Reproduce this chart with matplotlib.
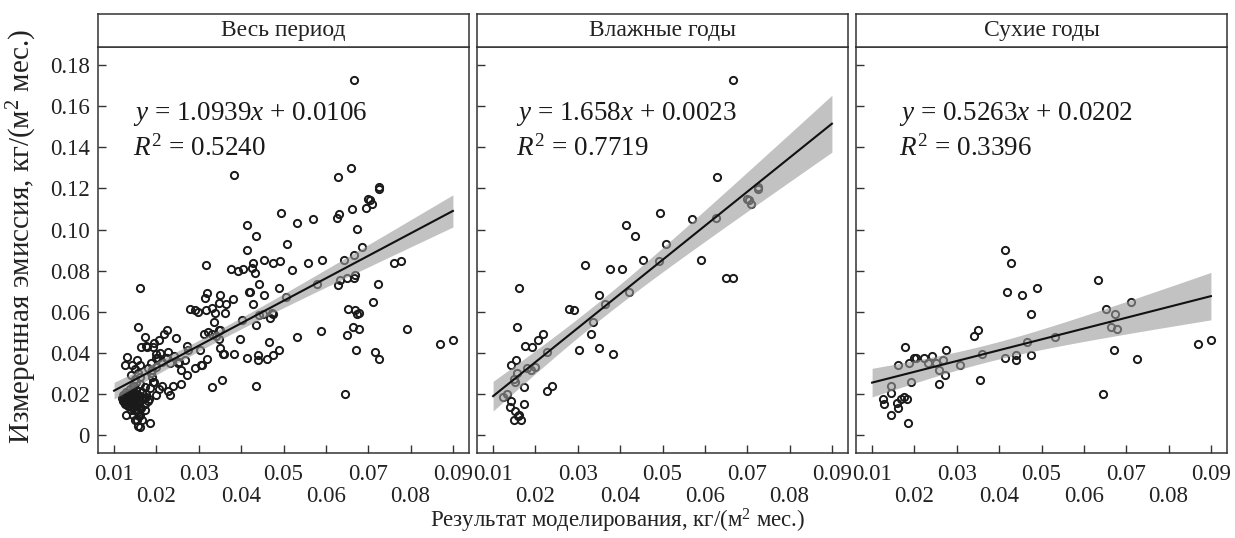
import numpy as np
import matplotlib
matplotlib.use("Agg")
from matplotlib import pyplot as plt

plt.rcParams['font.family'] = ['Liberation Serif', 'DejaVu Serif']
plt.rcParams['mathtext.fontset'] = 'custom'
plt.rcParams['mathtext.rm'] = 'Liberation Serif'
plt.rcParams['mathtext.it'] = 'Liberation Serif:italic'

## Data ##

panel_titles = ["Весь период", "Влажные годы", "Сухие годы"]
slopes = [1.0939, 1.658, 0.5263]
intercepts = [0.0106, 0.0023, 0.0202]
eq_texts = ["1.0939", "1.658", "0.5263"]
int_texts = ["0.0106", "0.0023", "0.0202"]
r2_texts = ["0.5240", "0.7719", "0.3396"]

x_ticks = [0.01, 0.02, 0.03, 0.04, 0.05, 0.06, 0.07, 0.08, 0.09]
x_ticklabels = ["0.01", "\n0.02", "0.03", "\n0.04", "0.05", "\n0.06", "0.07", "\n0.08", "0.09"]
y_ticks = [0, 0.02, 0.04, 0.06, 0.08, 0.10, 0.12, 0.14, 0.16, 0.18]
y_ticklabels = ["0", "0.02", "0.04", "0.06", "0.08", "0.10", "0.12", "0.14", "0.16", "0.18"]

# wet years
wet_x = [0.0667, 0.0628, 0.0700, 0.0705, 0.0708, 0.0726, 0.0726, 0.0494, 0.0569, 0.0626,
         0.0414, 0.0436, 0.0509, 0.0455, 0.0492, 0.0591, 0.0650, 0.0667, 0.0318, 0.0377,
         0.0404, 0.0421, 0.0349, 0.0364, 0.0280, 0.0291, 0.0336, 0.0332, 0.0349, 0.0382,
         0.0302, 0.0162, 0.0156, 0.0217, 0.0207, 0.0176, 0.0191, 0.0227, 0.0143, 0.0154,
         0.0156, 0.0150, 0.0151, 0.0180, 0.0190, 0.0199, 0.0172, 0.0228, 0.0239, 0.0124,
         0.0132, 0.0143, 0.0139, 0.0173, 0.0152, 0.0161, 0.0159, 0.0150, 0.0165]
wet_y = [0.1730, 0.1254, 0.1147, 0.1144, 0.1125, 0.1206, 0.1196, 0.1078, 0.1050, 0.1055,
         0.1020, 0.0967, 0.0928, 0.0850, 0.0847, 0.0854, 0.0763, 0.0763, 0.0826, 0.0810,
         0.0810, 0.0698, 0.0680, 0.0638, 0.0615, 0.0610, 0.0549, 0.0489, 0.0422, 0.0394,
         0.0412, 0.0714, 0.0523, 0.0490, 0.0463, 0.0432, 0.0430, 0.0402, 0.0339, 0.0364,
         0.0300, 0.0271, 0.0258, 0.0325, 0.0315, 0.0331, 0.0232, 0.0213, 0.0240, 0.0185,
         0.0201, 0.0167, 0.0135, 0.0151, 0.0115, 0.0097, 0.0093, 0.0071, 0.0075]

# dry years
dry_x = [0.0414, 0.0429, 0.0418, 0.0454, 0.0490, 0.0633, 0.0475, 0.0653, 0.0674, 0.0711,
         0.0663, 0.0678, 0.0671, 0.0725, 0.0645, 0.0870, 0.0900, 0.0531, 0.0465, 0.0340,
         0.0349, 0.0360, 0.0413, 0.0439, 0.0439, 0.0476, 0.0355, 0.0307, 0.0274, 0.0268,
         0.0242, 0.0223, 0.0203, 0.0199, 0.0231, 0.0250, 0.0258, 0.0272, 0.0259, 0.0177,
         0.0161, 0.0187, 0.0191, 0.0145, 0.0145, 0.0125, 0.0129, 0.0159, 0.0161, 0.0168,
         0.0175, 0.0183, 0.0145, 0.0185]
dry_y = [0.0902, 0.0836, 0.0696, 0.0682, 0.0717, 0.0755, 0.0591, 0.0613, 0.0591, 0.0649,
         0.0527, 0.0516, 0.0415, 0.0372, 0.0198, 0.0445, 0.0464, 0.0479, 0.0454, 0.0484,
         0.0510, 0.0394, 0.0375, 0.0388, 0.0365, 0.0391, 0.0269, 0.0338, 0.0414, 0.0364,
         0.0383, 0.0376, 0.0376, 0.0375, 0.0349, 0.0349, 0.0316, 0.0290, 0.0248, 0.0427,
         0.0342, 0.0349, 0.0256, 0.0239, 0.0204, 0.0174, 0.0149, 0.0154, 0.0133, 0.0174,
         0.0185, 0.0177, 0.0097, 0.0058]

# remaining years (only in the whole-period panel)
other_x = [0.0383, 0.0659, 0.0695, 0.0662, 0.0632, 0.0674, 0.0532, 0.0685, 0.0667, 0.0642,
           0.0559, 0.0475, 0.0519, 0.0426, 0.0432, 0.0441, 0.0505, 0.0428, 0.0580, 0.0628,
           0.0670, 0.0724, 0.0760, 0.0777, 0.0668, 0.0678, 0.0651, 0.0589, 0.0792, 0.0716,
           0.0434, 0.0490, 0.0460, 0.0397, 0.0434, 0.0401, 0.0467, 0.0473, 0.0451, 0.0443,
           0.0392, 0.0319, 0.0314, 0.0348, 0.0361, 0.0381, 0.0298, 0.0318, 0.0332, 0.0338,
           0.0312, 0.0322, 0.0347, 0.0347, 0.0358, 0.0320, 0.0306, 0.0290, 0.0330, 0.0273,
           0.0246, 0.0224, 0.0194, 0.0174, 0.0163, 0.0131, 0.0198, 0.0208, 0.0212, 0.0226,
           0.0254, 0.0232, 0.0200, 0.0157, 0.0161, 0.0153, 0.0128,
           0.0118, 0.0120, 0.0122, 0.0125, 0.0127, 0.0128, 0.0130, 0.0131, 0.0133, 0.0134,
           0.0135, 0.0137, 0.0138, 0.0139, 0.0140, 0.0141, 0.0142, 0.0144, 0.0145, 0.0146,
           0.0147, 0.0148, 0.0150, 0.0151, 0.0152, 0.0154, 0.0155, 0.0157, 0.0158, 0.0160,
           0.0162, 0.0164, 0.0166, 0.0170, 0.0172, 0.0176, 0.0180, 0.0185, 0.0190, 0.0195,
           0.0186, 0.0160, 0.0140, 0.0150, 0.0125, 0.0213, 0.0205]
other_y = [0.1264, 0.1298, 0.1103, 0.1098, 0.1074, 0.1004, 0.1033, 0.0913, 0.0876, 0.0850,
           0.0835, 0.0835, 0.0803, 0.0811, 0.0790, 0.0733, 0.0673, 0.0636, 0.0736, 0.0728,
           0.0777, 0.0733, 0.0839, 0.0848, 0.0606, 0.0594, 0.0485, 0.0506, 0.0514, 0.0402,
           0.0240, 0.0412, 0.0368, 0.0467, 0.0537, 0.0560, 0.0568, 0.0592, 0.0589, 0.0585,
           0.0800, 0.0693, 0.0668, 0.0644, 0.0595, 0.0660, 0.0600, 0.0608, 0.0616, 0.0595,
           0.0490, 0.0503, 0.0511, 0.0466, 0.0394, 0.0368, 0.0341, 0.0324, 0.0235, 0.0432,
           0.0470, 0.0510, 0.0446, 0.0475, 0.0430, 0.0378, 0.0392, 0.0397, 0.0357, 0.0373,
           0.0357, 0.0195, 0.0195, 0.0044, 0.0037, 0.0073, 0.0097,
           0.0180, 0.0165, 0.0195, 0.0150, 0.0210, 0.0175, 0.0190, 0.0160, 0.0140, 0.0205,
           0.0180, 0.0225, 0.0168, 0.0195, 0.0150, 0.0120, 0.0185, 0.0210, 0.0172, 0.0240,
           0.0135, 0.0195, 0.0160, 0.0220, 0.0180, 0.0140, 0.0200, 0.0110, 0.0170, 0.0250,
           0.0190, 0.0130, 0.0210, 0.0180, 0.0120, 0.0200, 0.0165, 0.0230, 0.0280, 0.0260,
           0.0300, 0.0280, 0.0290, 0.0320, 0.0340, 0.0240, 0.0225]

all_x = wet_x + dry_x + other_x
all_y = wet_y + dry_y + other_y
panel_data = [(all_x, all_y), (wet_x, wet_y), (dry_x, dry_y)]
text_x = [0.0145, 0.0154, 0.0164]

## Figure ##

W, H = 1235, 538
fig = plt.figure(figsize=(W / 100, H / 100), dpi=100)
lefts = [98, 477, 856]
pw = 371
p_top = 46.7
p_bot = 453
s_top = 14
dark = '#333333'

for i in range(3):
    ax = fig.add_axes([lefts[i] / W, 1 - p_bot / H, pw / W, (p_bot - p_top) / H])
    xs, ys = np.array(panel_data[i][0]), np.array(panel_data[i][1])
    a, b = slopes[i], intercepts[i]

    ax.plot(xs, ys, 'o', ms=5.2, mfc='none', mec='#1a1a1a', mew=1.4, zorder=2)

    # regression line with 95% confidence band
    xl = np.linspace(0.01, 0.09, 120)
    n = len(xs)
    res = ys - (a * xs + b)
    s = np.sqrt(np.sum(res ** 2) / (n - 2))
    sxx = np.sum((xs - xs.mean()) ** 2)
    se = s * np.sqrt(1.0 / n + (xl - xs.mean()) ** 2 / sxx)
    ax.fill_between(xl, a * xl + b - 1.98 * se, a * xl + b + 1.98 * se,
                    color='#9a9a9a', alpha=0.6, lw=0, zorder=3)
    ax.plot(xl, a * xl + b, color='#111111', lw=1.5, zorder=4)

    ax.text(text_x[i], 0.156, "$y$ = " + eq_texts[i] + "$x$ + " + int_texts[i],
            fontsize=19.5, va='center', ha='left', color='#1a1a1a')
    ax.text(text_x[i], 0.1395, "$R^2$ = " + r2_texts[i],
            fontsize=19.5, va='center', ha='left', color='#1a1a1a')

    ax.set_xlim(0.0062, 0.0938)
    ax.set_ylim(-0.0088, 0.189)
    ax.set_xticks(x_ticks)
    ax.set_xticklabels(x_ticklabels, fontsize=16.5, linespacing=1.08, color='#222222')
    ax.set_yticks(y_ticks)
    if i == 0:
        ax.set_yticklabels(y_ticklabels, fontsize=16.5, color='#222222')
    else:
        ax.set_yticklabels([])
    ax.tick_params(direction='in', length=6, width=1.0, color=dark, pad=8)
    ax.tick_params(axis='y', pad=6)
    for sp in ax.spines.values():
        sp.set_color(dark)
        sp.set_linewidth(1.1)

    # facet strip
    st = fig.add_axes([lefts[i] / W, 1 - p_top / H, pw / W, (p_top - s_top) / H])
    st.set_xticks([])
    st.set_yticks([])
    for sp in st.spines.values():
        sp.set_color(dark)
        sp.set_linewidth(1.1)
    st.text(0.5, 0.5, panel_titles[i], fontsize=17, ha='center', va='center',
            transform=st.transAxes, color='#222222')

fig.text(0.5, 1 - 521 / H, "Результат моделирования, кг/(м$^2$ мес.)",
         fontsize=16.5, ha='center', va='center', color='#222222')
fig.text(22 / W, 1 - 237 / H, "Измеренная эмиссия, кг/(м$^2$ мес.)",
         fontsize=21, ha='center', va='center', rotation=90, color='#222222')

fig.savefig("out.png", dpi=100)
